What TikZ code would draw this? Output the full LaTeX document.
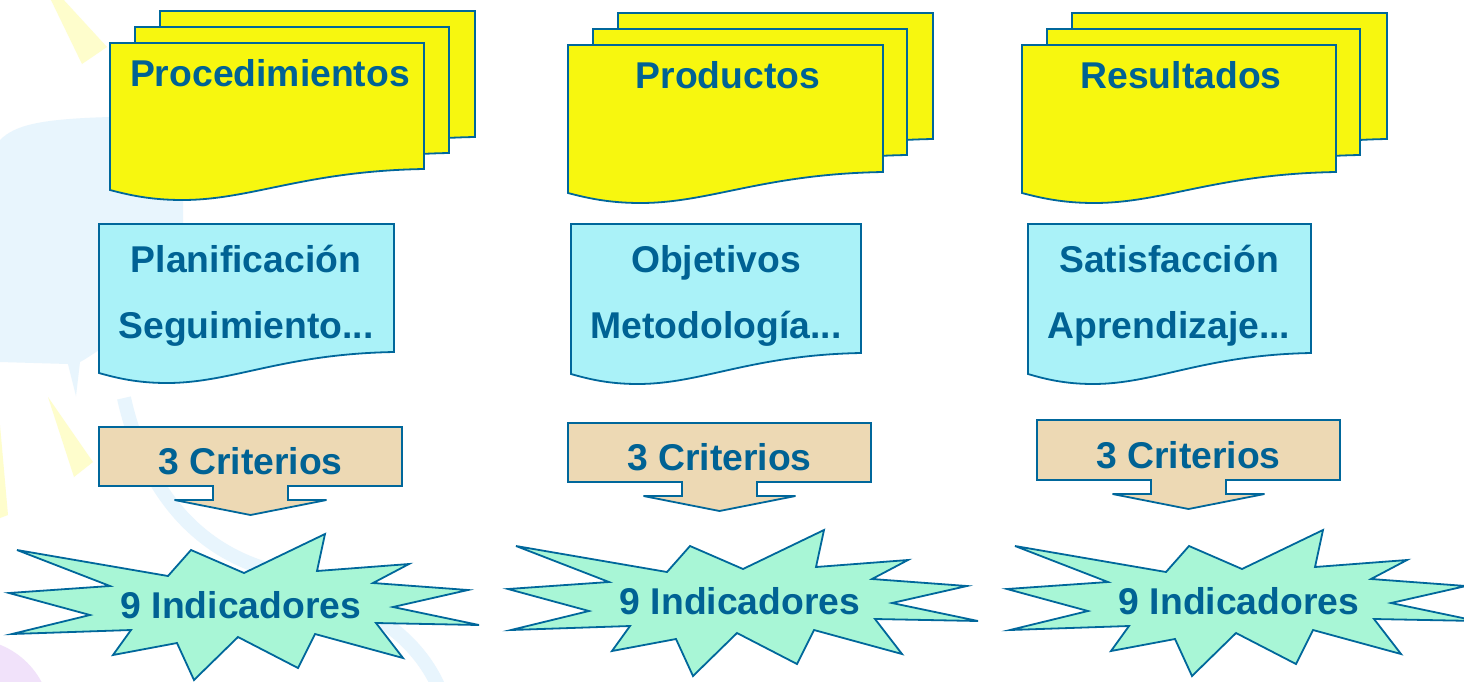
\documentclass[tikz,border=0pt]{standalone}
\usepackage{fontspec}
\setmainfont{Liberation Sans}
\definecolor{lineblue}{RGB}{0,103,155}
\definecolor{txtblue}{RGB}{0,98,148}
\definecolor{docyellow}{RGB}{247,247,15}
\definecolor{doccyan}{RGB}{170,242,248}
\definecolor{calltan}{RGB}{237,217,180}
\definecolor{mint}{RGB}{168,246,214}
\definecolor{bgyellow}{RGB}{254,253,204}
\definecolor{bgblue}{RGB}{232,245,253}
\definecolor{bglav}{RGB}{241,226,250}
\newcommand\mydoc[4]{% style, shift, width, left height
  \path[#1,shift={#2}] (0,0) -- (#3,0) -- (#3,#4-21)
    .. controls ({#3*0.62},#4-19) and ({#3*0.45},#4+10) .. ({#3*0.23},#4+10)
    .. controls ({#3*0.13},#4+10) and ({#3*0.06},#4+5) .. (0,#4) -- cycle;}
\newcommand\mycallout[4]{% x0,y0,x1,y1
  \path[callbox] (#1,#2) -- (#3,#2) -- (#3,#4) -- ({(#1+#3)/2+37.5},#4)
    -- ({(#1+#3)/2+37.5},#4+14) -- ({(#1+#3)/2+76},#4+14) -- ({(#1+#3)/2},#4+29)
    -- ({(#1+#3)/2-76},#4+14) -- ({(#1+#3)/2-37.5},#4+14) -- ({(#1+#3)/2-37.5},#4)
    -- (#1,#4) -- cycle;}
\newcommand\mystar[1]{%
  \path[starbox,shift={#1}] (17,550) -- (168,576) -- (191,550) -- (244,573) -- (325,534)
    -- (317,571) -- (409,564) -- (373,583) -- (468,590) -- (393,607) -- (479,625)
    -- (376,623) -- (403,658) -- (315,634) -- (298,668) -- (238,637) -- (194,680)
    -- (177,643) -- (113,655) -- (131,630) -- (12,634) -- (90,615) -- (9,593)
    -- (110,586) -- cycle;}
\begin{document}
\begin{tikzpicture}[x=1pt,y=-1pt,
  outl/.style={draw=lineblue,line width=1.8pt,line join=miter},
  ydoc/.style={outl,fill=docyellow},
  cdoc/.style={outl,fill=doccyan},
  callbox/.style={outl,fill=calltan},
  starbox/.style={outl,fill=mint},
  lbl/.style={text=txtblue,font=\fontsize{37.3}{40}\selectfont\bfseries,anchor=base,inner sep=0pt}]
\useasboundingbox (0,0) rectangle (1464,681);
\fill[white] (0,0) rectangle (1464,681);
% faint background
\fill[bgblue] (0,140) .. controls (15,125) and (40,119) .. (110,117)
  .. controls (150,116) and (175,118) .. (183,122) -- (183,226) -- (99,240) -- (99,350)
  .. controls (90,356) and (84,360) .. (80,362) -- (76,396) -- (68,364) -- (0,362) -- cycle;
\draw[bgblue,line width=14pt] (124,398) .. controls (140,470) and (180,540) .. (260,567)
  .. controls (340,595) and (410,620) .. (440,690);
\fill[bgyellow] (50,-2) -- (62,-2) -- (107,47) -- (82,64) -- cycle;
\fill[bgyellow] (48,397) -- (93,462) -- (74,477) -- cycle;
\fill[bgyellow] (0,425) -- (8,515) -- (0,518) -- cycle;
\fill[bglav] (-30,720) circle[radius=81];
% column 1
\mydoc{ydoc}{(160,11)}{315}{147}
\mydoc{ydoc}{(135,27)}{314}{147}
\mydoc{ydoc}{(110,43)}{314}{147}
\node[lbl] (t1) at (270,86) {Procedimientos};
\mydoc{cdoc}{(99,224)}{295}{149}
\node[lbl] (c1a) at (246,272) {Planificación};
\node[lbl] (c1b) at (246,338) {Seguimiento...};
\mycallout{99}{427}{402}{486}
\node[lbl] (k1) at (250.5,474) {3 Criterios};
\mystar{(0,0)}
\node[lbl] (s1) at (241,618) {9 Indicadores};
% column 2
\mydoc{ydoc}{(618,13)}{315}{147}
\mydoc{ydoc}{(593,29)}{314}{147}
\mydoc{ydoc}{(568,45)}{315}{148}
\node[lbl] (t2) at (728,88) {Productos};
\mydoc{cdoc}{(571,224)}{290}{150}
\node[lbl] (c2a) at (716,272) {Objetivos};
\node[lbl] (c2b) at (716,338) {Metodología...};
\mycallout{568}{423}{871}{482}
\node[lbl] (k2) at (719.5,470) {3 Criterios};
\mystar{(499,-4)}
\node[lbl] (s2) at (740,614) {9 Indicadores};
% column 3
\mydoc{ydoc}{(1072,13)}{315}{147}
\mydoc{ydoc}{(1047,29)}{313}{147}
\mydoc{ydoc}{(1022,45)}{314}{148}
\node[lbl] (t3) at (1181,88) {Resultados};
\mydoc{cdoc}{(1028,224)}{283}{150}
\node[lbl] (c3a) at (1169,272) {Satisfacción};
\node[lbl] (c3b) at (1169,338) {Aprendizaje...};
\mycallout{1037}{420}{1340}{480}
\node[lbl] (k3) at (1188.5,468) {3 Criterios};
\mystar{(998,-4)}
\node[lbl] (s3) at (1239,614) {9 Indicadores};
\end{tikzpicture}
\end{document}
